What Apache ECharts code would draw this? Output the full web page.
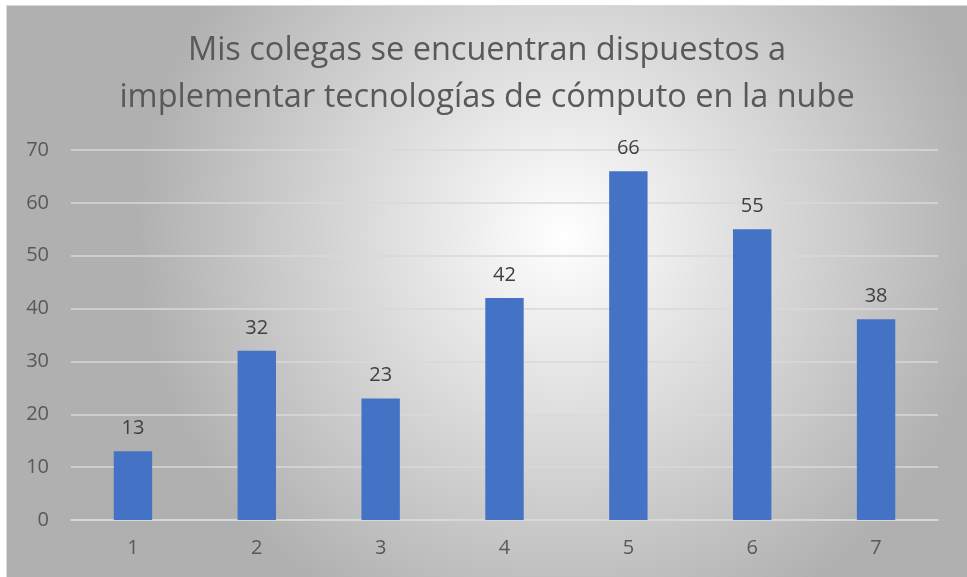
<!DOCTYPE html>
<html>
<head>
<meta charset="utf-8">
<script src="https://cdn.jsdelivr.net/npm/echarts@6/dist/echarts.min.js"></script>
<style>
    html, body {margin: 0; padding: 0; background: #ffffff;}
    #chart {position: absolute; left: 6px; top: 5px; width: 961px; height: 572px;
            border-left: 1px solid #d9d9d9; border-top: 1px solid #d9d9d9; box-sizing: border-box;}
</style>
</head>
<body>
<div id="chart"></div>
<script>
var title_lines = ['Mis colegas se encuentran dispuestos a', 'implementar tecnologías de cómputo en la nube'];
var categories = ['1', '2', '3', '4', '5', '6', '7'];
var values = [13, 32, 23, 42, 66, 55, 38];
var y_ticks = {min: 0, max: 70, interval: 10};

var font = 'Open Sans';
var chart = echarts.init(document.getElementById('chart'));
chart.setOption({
    backgroundColor: new echarts.graphic.RadialGradient(0.58, 0.4, 0.75, [
        {offset: 0, color: '#ffffff'},
        {offset: 1, color: '#b0b0b0'}
    ]),
    textStyle: {fontFamily: font},
    title: {
        text: title_lines.join('\n'),
        left: 'center',
        top: 16,
        textStyle: {fontFamily: font, fontSize: 32.5, fontWeight: 'normal', color: '#595959', lineHeight: 47}
    },
    grid: {left: 64, right: 29, top: 144, bottom: 57},
    xAxis: {
        type: 'category',
        data: categories,
        axisLine: {lineStyle: {color: '#d9d9d9', width: 1.5}},
        axisTick: {show: false},
        axisLabel: {color: '#595959', fontSize: 20, margin: 18}
    },
    yAxis: Object.assign({
        type: 'value',
        axisLine: {show: false},
        axisTick: {show: false},
        splitLine: {lineStyle: {color: '#d9d9d9', width: 1.5}},
        axisLabel: {color: '#595959', fontSize: 20, margin: 22}
    }, y_ticks),
    series: [{
        type: 'bar',
        data: values,
        barWidth: '31%',
        itemStyle: {color: '#4472c4'},
        label: {show: true, position: 'top', distance: 13, color: '#404040', fontSize: 20}
    }]
});
</script>
</body>
</html>
